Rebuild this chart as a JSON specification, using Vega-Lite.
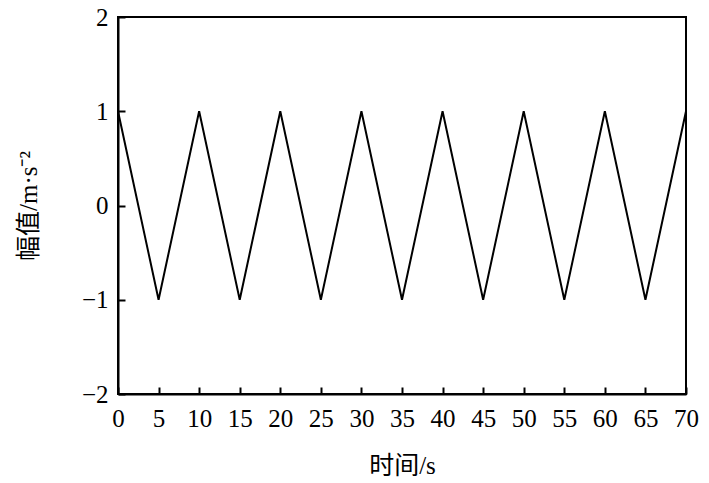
{
  "$schema": "https://vega.github.io/schema/vega-lite/v6.json",
  "width": 568,
  "height": 377,
  "autosize": {"type": "none"},
  "padding": {"left": 118, "top": 17, "right": 23, "bottom": 89},
  "background": "white",
  "config": {
    "view": {"stroke": "black", "strokeWidth": 2},
    "axis": {
      "domainColor": "black",
      "domainWidth": 2,
      "tickColor": "black",
      "tickWidth": 2,
      "tickSize": -7,
      "grid": false,
      "labelFont": "Liberation Serif",
      "labelFontSize": 25,
      "labelColor": "black",
      "titleFont": "Liberation Serif, Noto Sans CJK SC",
      "titleFontSize": 25,
      "titleFontWeight": "normal",
      "titleColor": "black"
    }
  },
  "data": {
    "values": [
      {"t": 0, "a": 1}, {"t": 5, "a": -1}, {"t": 10, "a": 1}, {"t": 15, "a": -1},
      {"t": 20, "a": 1}, {"t": 25, "a": -1}, {"t": 30, "a": 1}, {"t": 35, "a": -1},
      {"t": 40, "a": 1}, {"t": 45, "a": -1}, {"t": 50, "a": 1}, {"t": 55, "a": -1},
      {"t": 60, "a": 1}, {"t": 65, "a": -1}, {"t": 70, "a": 1}
    ]
  },
  "mark": {"type": "line", "color": "black", "strokeWidth": 2},
  "encoding": {
    "x": {
      "field": "t", "type": "quantitative",
      "scale": {"domain": [0, 70], "nice": false},
      "axis": {"values": [0,5,10,15,20,25,30,35,40,45,50,55,60,65,70], "title": "时间/s", "labelPadding": 19, "titlePadding": 22, "labelFlush": false}
    },
    "y": {
      "field": "a", "type": "quantitative",
      "scale": {"domain": [-2, 2], "nice": false},
      "axis": {"values": [-2,-1,0,1,2], "title": "幅值/m·s⁻²", "labelPadding": 17, "titlePadding": 40, "labelFlush": false}
    }
  }
}
